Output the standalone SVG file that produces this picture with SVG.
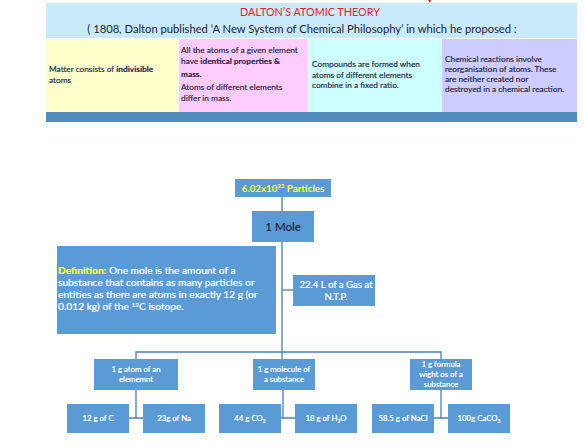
<svg xmlns="http://www.w3.org/2000/svg" width="584" height="447" viewBox="0 0 584 447">
<style>
text{font-family:Lato,"Open Sans","Liberation Sans",sans-serif;}
.cell{font-size:8.3px;fill:#1c1c3a;stroke:#1c1c3a;stroke-width:0.15;}
.b{font-weight:bold;}
.box{fill:#5b9bd5;}
.wt{fill:#ffffff;stroke:#ffffff;stroke-width:0.2;font-size:7.8px;text-anchor:middle;}
.conn{stroke:#4a7ebb;stroke-width:1.3;fill:none;}
</style>
<rect width="584" height="447" fill="#ffffff"/>
<g id="header">
<rect x="46" y="3" width="531" height="35" fill="#c9eafb"/>
<path d="M428 0 L431 0 L430 3 Z" fill="#e0201a"/>
<text x="310" y="16" text-anchor="middle" font-size="10.8" fill="#e8202a">DALTON’S ATOMIC THEORY</text>
<text x="302" y="33" text-anchor="middle" font-size="11.2" fill="#1c1c3a">( 1808, Dalton published ‘A New System of Chemical Philosophy’ in which he proposed :</text>
</g>
<g id="cell1">
<rect x="46" y="39" width="132" height="73" fill="#ffffcc"/>
<text class="cell" x="49" y="72">Matter consists of <tspan class="b">indivisible</tspan></text>
<text class="cell" x="49" y="83">atoms</text>
</g>
<g id="cell2">
<rect x="179" y="39" width="129" height="73" fill="#ffccff"/>
<text class="cell" x="181" y="53">All the atoms of a given element</text>
<text class="cell" x="181" y="64">have <tspan class="b">identical properties &amp;</tspan></text>
<text class="cell b" x="181" y="77">mass.</text>
<text class="cell" x="181" y="90">Atoms of different elements</text>
<text class="cell" x="181" y="101">differ in mass.</text>
</g>
<g id="cell3">
<rect x="309" y="39" width="132" height="73" fill="#ccffff"/>
<text class="cell" x="312" y="67">Compounds are formed when</text>
<text class="cell" x="312" y="78">atoms of different elements</text>
<text class="cell" x="312" y="88">combine in a fixed ratio.</text>
</g>
<g id="cell4">
<rect x="442" y="39" width="135" height="73" fill="#ccccff"/>
<text class="cell" x="445" y="62">Chemical reactions involve</text>
<text class="cell" x="445" y="72">reorganisation of atoms. These</text>
<text class="cell" x="445" y="82">are neither created nor</text>
<text class="cell" x="445" y="92">destroyed in a chemical reaction.</text>
</g>
<g id="bar">
<rect x="46" y="112" width="531" height="10" fill="#528cc0"/>
</g>
<g id="connectors">
<path class="conn" d="M282 197 V211"/>
<path class="conn" d="M282 242 V359"/>
<path class="conn" d="M282 290 H293"/>
<path class="conn" d="M136 359 V352 H441 V359"/>
<path class="conn" d="M136 390 V418 M129 418 H143"/>
<path class="conn" d="M283 390 V418 M281 418 H295"/>
<path class="conn" d="M441 390 V418 M434 418 H448"/>
</g>
<g id="particles">
<rect class="box" x="235" y="179" width="96" height="18"/>
<text x="283" y="191.5" text-anchor="middle" font-size="9.8" font-weight="bold" fill="#ffff33">6.02x10<tspan font-size="6" dy="-3.5">23</tspan><tspan dy="3.5"> Particles</tspan></text>
</g>
<g id="mole">
<rect class="box" x="252" y="211" width="62" height="31"/>
<text x="283" y="230.5" text-anchor="middle" font-size="11.5" fill="#1c1c3a" stroke="#1c1c3a" stroke-width="0.15">1 Mole</text>
</g>
<g id="definition">
<rect class="box" x="57" y="246" width="219" height="88"/>
<g fill="#ffffff" stroke="#ffffff" stroke-width="0.2" font-size="10.2">
<text x="58" y="274"><tspan font-weight="bold" fill="#ffff33" stroke="#ffff33">Definition:</tspan> One mole is the amount of a</text>
<text x="58" y="286">substance that contains as many particles or</text>
<text x="58" y="298">entities as there are atoms in exactly 12 g (or</text>
<text x="58" y="310">0.012 kg) of the <tspan font-size="6.5" dy="-3.5">12</tspan><tspan dy="3.5">C isotope.</tspan></text>
</g>
</g>
<g id="gas">
<rect class="box" x="293" y="275" width="82" height="31"/>
<text class="wt" x="336" y="288" style="font-size:9.6px">22.4 L of a Gas at</text>
<text class="wt" x="336" y="300" style="font-size:9.6px">N.T.P.</text>
</g>
<g id="atom">
<rect class="box" x="94" y="359" width="84" height="31"/>
<text class="wt" x="136" y="372">1 g atom of an</text>
<text class="wt" x="136" y="382">elememnt</text>
</g>
<g id="molecule">
<rect class="box" x="253" y="359" width="62" height="31"/>
<text class="wt" x="284" y="372">1 g molecule of</text>
<text class="wt" x="284" y="382">a substance</text>
</g>
<g id="formula">
<rect class="box" x="410" y="359" width="62" height="31"/>
<text class="wt" x="441" y="367">1 g formula</text>
<text class="wt" x="441" y="377">wight os  of a</text>
<text class="wt" x="441" y="387">substance</text>
</g>
<g id="c12">
<rect class="box" x="67" y="404" width="62" height="29"/>
<text class="wt" x="98" y="421">12 g of C</text>
</g>
<g id="na23">
<rect class="box" x="143" y="404" width="62" height="29"/>
<text class="wt" x="174" y="421">23g of Na</text>
</g>
<g id="co2">
<rect class="box" x="219" y="404" width="62" height="29"/>
<text class="wt" x="250" y="421">44 g CO<tspan font-size="5" dy="1.5">2</tspan></text>
</g>
<g id="h2o">
<rect class="box" x="295" y="404" width="62" height="29"/>
<text class="wt" x="326" y="421">18 g of H<tspan font-size="5" dy="1.5">2</tspan><tspan dy="-1.5">O</tspan></text>
</g>
<g id="nacl">
<rect class="box" x="372" y="404" width="62" height="29"/>
<text class="wt" x="403" y="421">58.5 g of NaCl</text>
</g>
<g id="caco3">
<rect class="box" x="448" y="404" width="62" height="29"/>
<text class="wt" x="479" y="421">100g CaCO<tspan font-size="5" dy="1.5">3</tspan></text>
</g>
</svg>
